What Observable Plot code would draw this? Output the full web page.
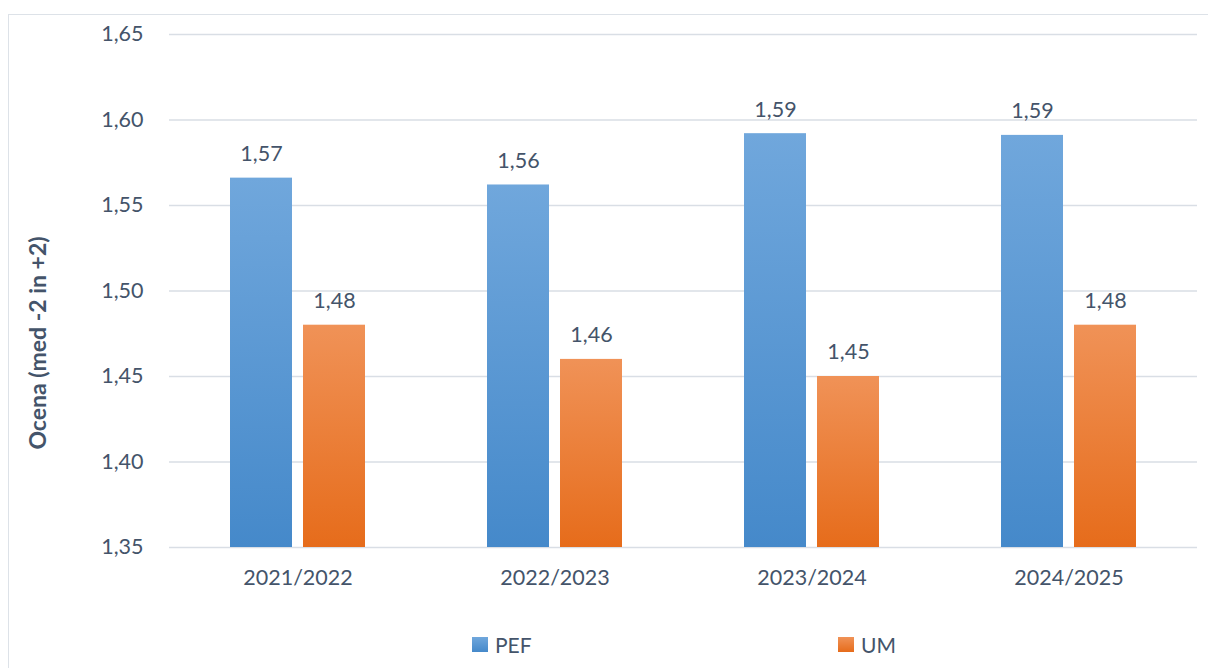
<!DOCTYPE html>
<html><head><meta charset="utf-8">
<script src="https://cdn.jsdelivr.net/npm/d3@7"></script>
<script src="https://cdn.jsdelivr.net/npm/@observablehq/plot@0.6"></script>
<style>
body{margin:0;background:#fff;}
#wrap{position:relative;width:1208px;height:668px;overflow:hidden;font-family:Lato,"Open Sans",sans-serif;color:#44546a;}
#frame{position:absolute;left:8px;top:14px;width:1220px;height:680px;border:1.5px solid #dde2e8;box-sizing:border-box;}
#chart{position:absolute;left:0;top:0;}
.leg{position:absolute;top:632px;height:24px;display:flex;align-items:center;font-size:21px;}
.sw{width:16px;height:15px;margin-right:7px;}
</style></head>
<body>
<div id="wrap"><div id="frame"></div><div id="chart"></div>
<div class="leg" style="left:472px"><div class="sw" style="background:linear-gradient(#70a7dc,#4589ca)"></div><span>PEF</span></div>
<div class="leg" style="left:838px"><div class="sw" style="background:linear-gradient(#f09257,#e66c1b)"></div><span>UM</span></div>
</div>
<script>
const years = ["2021/2022", "2022/2023", "2023/2024", "2024/2025"];
const series = ["PEF", "UM"];
const pef = [1.566, 1.562, 1.592, 1.591];
const um = [1.48, 1.46, 1.45, 1.48];
const yTicks = [1.35, 1.40, 1.45, 1.50, 1.55, 1.60, 1.65];
const yLabel = "Ocena (med -2 in +2)";

const data = years.flatMap((y, i) => [
  {year: y, series: "PEF", value: pef[i]},
  {year: y, series: "UM", value: um[i]}
]);
const fmt = d => d.toFixed(2).replace(".", ",");
const ink = "#44546a";

const chart = Plot.plot({
  width: 1208, height: 600,
  marginTop: 34, marginBottom: 53, marginLeft: 169, marginRight: 11,
  style: {fontFamily: "Lato, 'Open Sans', sans-serif", fontSize: "21px", color: ink, background: "transparent", overflow: "visible"},
  fx: {domain: years, padding: 0, label: null},
  x: {domain: series, paddingInner: 0.15, paddingOuter: 0.835, axis: null},
  y: {domain: [1.35, 1.65], label: null},
  marks: [
    Plot.gridY(yTicks, {stroke: "#d9dee5", strokeOpacity: 1, strokeWidth: 1.5}),
    Plot.axisY(yTicks, {tickSize: 0, tickPadding: 26, tickFormat: fmt, fill: ink, fontSize: 21.5, label: null}),
    Plot.axisFx({anchor: "bottom", tickSize: 0, tickPadding: 22, fill: ink, fontSize: 21.5, label: null}),
    Plot.barY(data, {filter: d => d.series === "PEF", fx: "year", x: "series", y1: 1.35, y2: "value", fill: "url(#gPEF)"}),
    Plot.barY(data, {filter: d => d.series === "UM", fx: "year", x: "series", y1: 1.35, y2: "value", fill: "url(#gUM)"}),
    Plot.text(data, {fx: "year", x: "series", y: "value", text: d => fmt(d.value), dy: -24, fill: ink, fontSize: 21.5}),
    Plot.text([yLabel], {frameAnchor: "left", rotate: -90, dx: -131, dy: 52, textAnchor: "middle", fontWeight: "bold", fill: ink, fontSize: 23, facet: "super"})
  ]
});

const defs = d3.select(chart).insert("defs", ":first-child");
function grad(id, top, bottom) {
  const g = defs.append("linearGradient").attr("id", id).attr("x1", 0).attr("y1", 0).attr("x2", 0).attr("y2", 1);
  g.append("stop").attr("offset", "0%").attr("stop-color", top);
  g.append("stop").attr("offset", "100%").attr("stop-color", bottom);
}
grad("gPEF", "#70a7dc", "#4589ca");
grad("gUM", "#f09257", "#e66c1b");

document.getElementById("chart").appendChild(chart);
</script>
</body></html>
